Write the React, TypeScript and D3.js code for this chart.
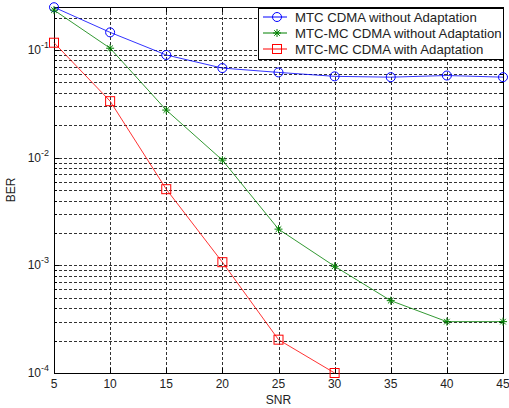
import React, { useEffect, useRef } from 'react';
import * as d3 from 'd3';

const snr = [5, 10, 15, 20, 25, 30, 35, 40, 45];
const mtcNoAdapt = [0.25, 0.146, 0.09, 0.068, 0.062, 0.057, 0.056, 0.058, 0.056];
const mtcMcNoAdapt = [0.235, 0.104, 0.0277, 0.0095, 0.00217, 0.00098, 0.00047, 0.0003, 0.0003];
const mtcMcAdapt = [0.117, 0.0335, 0.0051, 0.00107, 0.000204, 0.0001];
const xTicks = [5, 10, 15, 20, 25, 30, 35, 40, 45];
const yDecades = [-4, -3, -2, -1];

const series = [
  { name: 'MTC CDMA without Adaptation', color: '#0000ff', marker: 'circle', values: mtcNoAdapt },
  { name: 'MTC-MC CDMA without Adaptation', color: '#008000', marker: 'star', values: mtcMcNoAdapt },
  { name: 'MTC-MC CDMA with Adaptation', color: '#ff0000', marker: 'square', values: mtcMcAdapt },
];

const App = () => {
  const ref = useRef<SVGSVGElement | null>(null);

  useEffect(() => {
    const svg = d3.select(ref.current);
    svg.selectAll('*').remove();
    const width = 509;
    const height = 408;
    const m = { left: 54, right: 6, top: 7, bottom: 35 };
    const x = d3.scaleLinear().domain([5, 45]).range([m.left, width - m.right]);
    const y = d3.scaleLog().domain([1e-4, Math.pow(10, -0.6)]).range([height - m.bottom, m.top]);
    const font = 'Arial, "Liberation Sans", sans-serif';
    const txt = '#222';

    svg.append('rect').attr('width', width).attr('height', height).attr('fill', '#fff');

    const grid = svg.append('g').attr('stroke', '#000').attr('stroke-width', 1).attr('stroke-dasharray', '3,2').attr('opacity', 0.8);
    xTicks.slice(1, -1).forEach((t) => {
      grid.append('line').attr('x1', Math.round(x(t)) + 0.5).attr('x2', Math.round(x(t)) + 0.5).attr('y1', m.top).attr('y2', height - m.bottom);
    });
    const minor: number[] = [];
    for (let d = -4; d <= -1; d++) {
      for (let k = 1; k <= 9; k++) {
        const v = k * Math.pow(10, d);
        if (v >= 1e-4 && v <= Math.pow(10, -0.6)) minor.push(v);
      }
    }
    minor.forEach((v) => {
      grid.append('line').attr('x1', m.left).attr('x2', width - m.right).attr('y1', Math.round(y(v)) + 0.5).attr('y2', Math.round(y(v)) + 0.5);
    });

    // ticks inside
    const ticks = svg.append('g').attr('stroke', '#000').attr('stroke-width', 1);
    xTicks.forEach((t) => {
      const px = Math.round(x(t)) + 0.5;
      ticks.append('line').attr('x1', px).attr('x2', px).attr('y1', height - m.bottom).attr('y2', height - m.bottom - 5);
      ticks.append('line').attr('x1', px).attr('x2', px).attr('y1', m.top).attr('y2', m.top + 5);
    });
    minor.forEach((v) => {
      const py = Math.round(y(v)) + 0.5;
      const len = Math.abs(Math.log10(v) - Math.round(Math.log10(v))) < 1e-6 ? 5 : 3;
      ticks.append('line').attr('x1', m.left).attr('x2', m.left + len).attr('y1', py).attr('y2', py);
      ticks.append('line').attr('x1', width - m.right).attr('x2', width - m.right - len).attr('y1', py).attr('y2', py);
    });

    svg.append('rect')
      .attr('x', m.left + 0.5).attr('y', m.top + 0.5)
      .attr('width', width - m.right - m.left).attr('height', height - m.bottom - m.top)
      .attr('fill', 'none').attr('stroke', '#000');

    // tick labels
    xTicks.forEach((t) => {
      svg.append('text').attr('x', x(t)).attr('y', height - m.bottom + 15)
        .attr('text-anchor', 'middle').attr('font-family', font).attr('font-size', 12).attr('fill', txt).text(t);
    });
    yDecades.forEach((d) => {
      const tx = svg.append('text').attr('x', m.left - 5).attr('y', y(Math.pow(10, d)) + 4)
        .attr('text-anchor', 'end').attr('font-family', font).attr('font-size', 12).attr('fill', txt);
      tx.append('tspan').text('10');
      tx.append('tspan').attr('dy', -6).attr('font-size', 9).text(String(d));
    });

    svg.append('text').attr('x', (m.left + width - m.right) / 2).attr('y', height - 4)
      .attr('text-anchor', 'middle').attr('font-family', font).attr('font-size', 12).attr('fill', txt).text('SNR');
    svg.append('text').attr('transform', `translate(15,${(m.top + height - m.bottom) / 2}) rotate(-90)`)
      .attr('text-anchor', 'middle').attr('font-family', font).attr('font-size', 12).attr('fill', txt).text('BER');

    const drawMarker = (g: any, type: string, cx: number, cy: number, color: string) => {
      if (type === 'circle') {
        g.append('circle').attr('cx', cx).attr('cy', cy).attr('r', 4.5).attr('fill', 'none').attr('stroke', color);
      } else if (type === 'square') {
        g.append('rect').attr('x', cx - 4.5).attr('y', cy - 4.5).attr('width', 9).attr('height', 9).attr('fill', 'none').attr('stroke', color);
      } else {
        const r = 4;
        const d = r * 0.7;
        g.append('path')
          .attr('d', `M${cx - r},${cy}H${cx + r}M${cx},${cy - r}V${cy + r}M${cx - d},${cy - d}L${cx + d},${cy + d}M${cx - d},${cy + d}L${cx + d},${cy - d}`)
          .attr('stroke', color).attr('fill', 'none');
      }
    };

    const line = d3.line<[number, number]>().x((d) => x(d[0])).y((d) => y(d[1]));
    series.forEach((s) => {
      const pts: [number, number][] = s.values.map((v, i) => [snr[i], v]);
      const g = svg.append('g');
      g.append('path').attr('d', line(pts)).attr('fill', 'none').attr('stroke', s.color).attr('stroke-width', 1).attr('opacity', 0.8);
      pts.forEach((p) => drawMarker(g, s.marker, x(p[0]), y(p[1]), s.color));
    });

    // legend
    const lg = svg.append('g');
    const lx = 258;
    const ly = 8;
    const lw = width - m.right - lx;
    lg.append('rect').attr('x', lx + 0.5).attr('y', ly + 0.5).attr('width', lw).attr('height', 51)
      .attr('fill', '#fff').attr('stroke', '#000');
    series.forEach((s, i) => {
      const cy = ly + 9 + i * 16;
      lg.append('line').attr('x1', lx + 5).attr('x2', lx + 29).attr('y1', cy).attr('y2', cy).attr('stroke', s.color);
      drawMarker(lg, s.marker, lx + 19, cy, s.color);
      lg.append('text').attr('x', lx + 37).attr('y', cy + 5).attr('font-family', font).attr('font-size', 13.2)
        .attr('fill', txt).text(s.name);
    });
  }, []);

  return <svg ref={ref} width={509} height={408} style={{ position: 'absolute', left: 0, top: 0 }} />;
};

export default App;
